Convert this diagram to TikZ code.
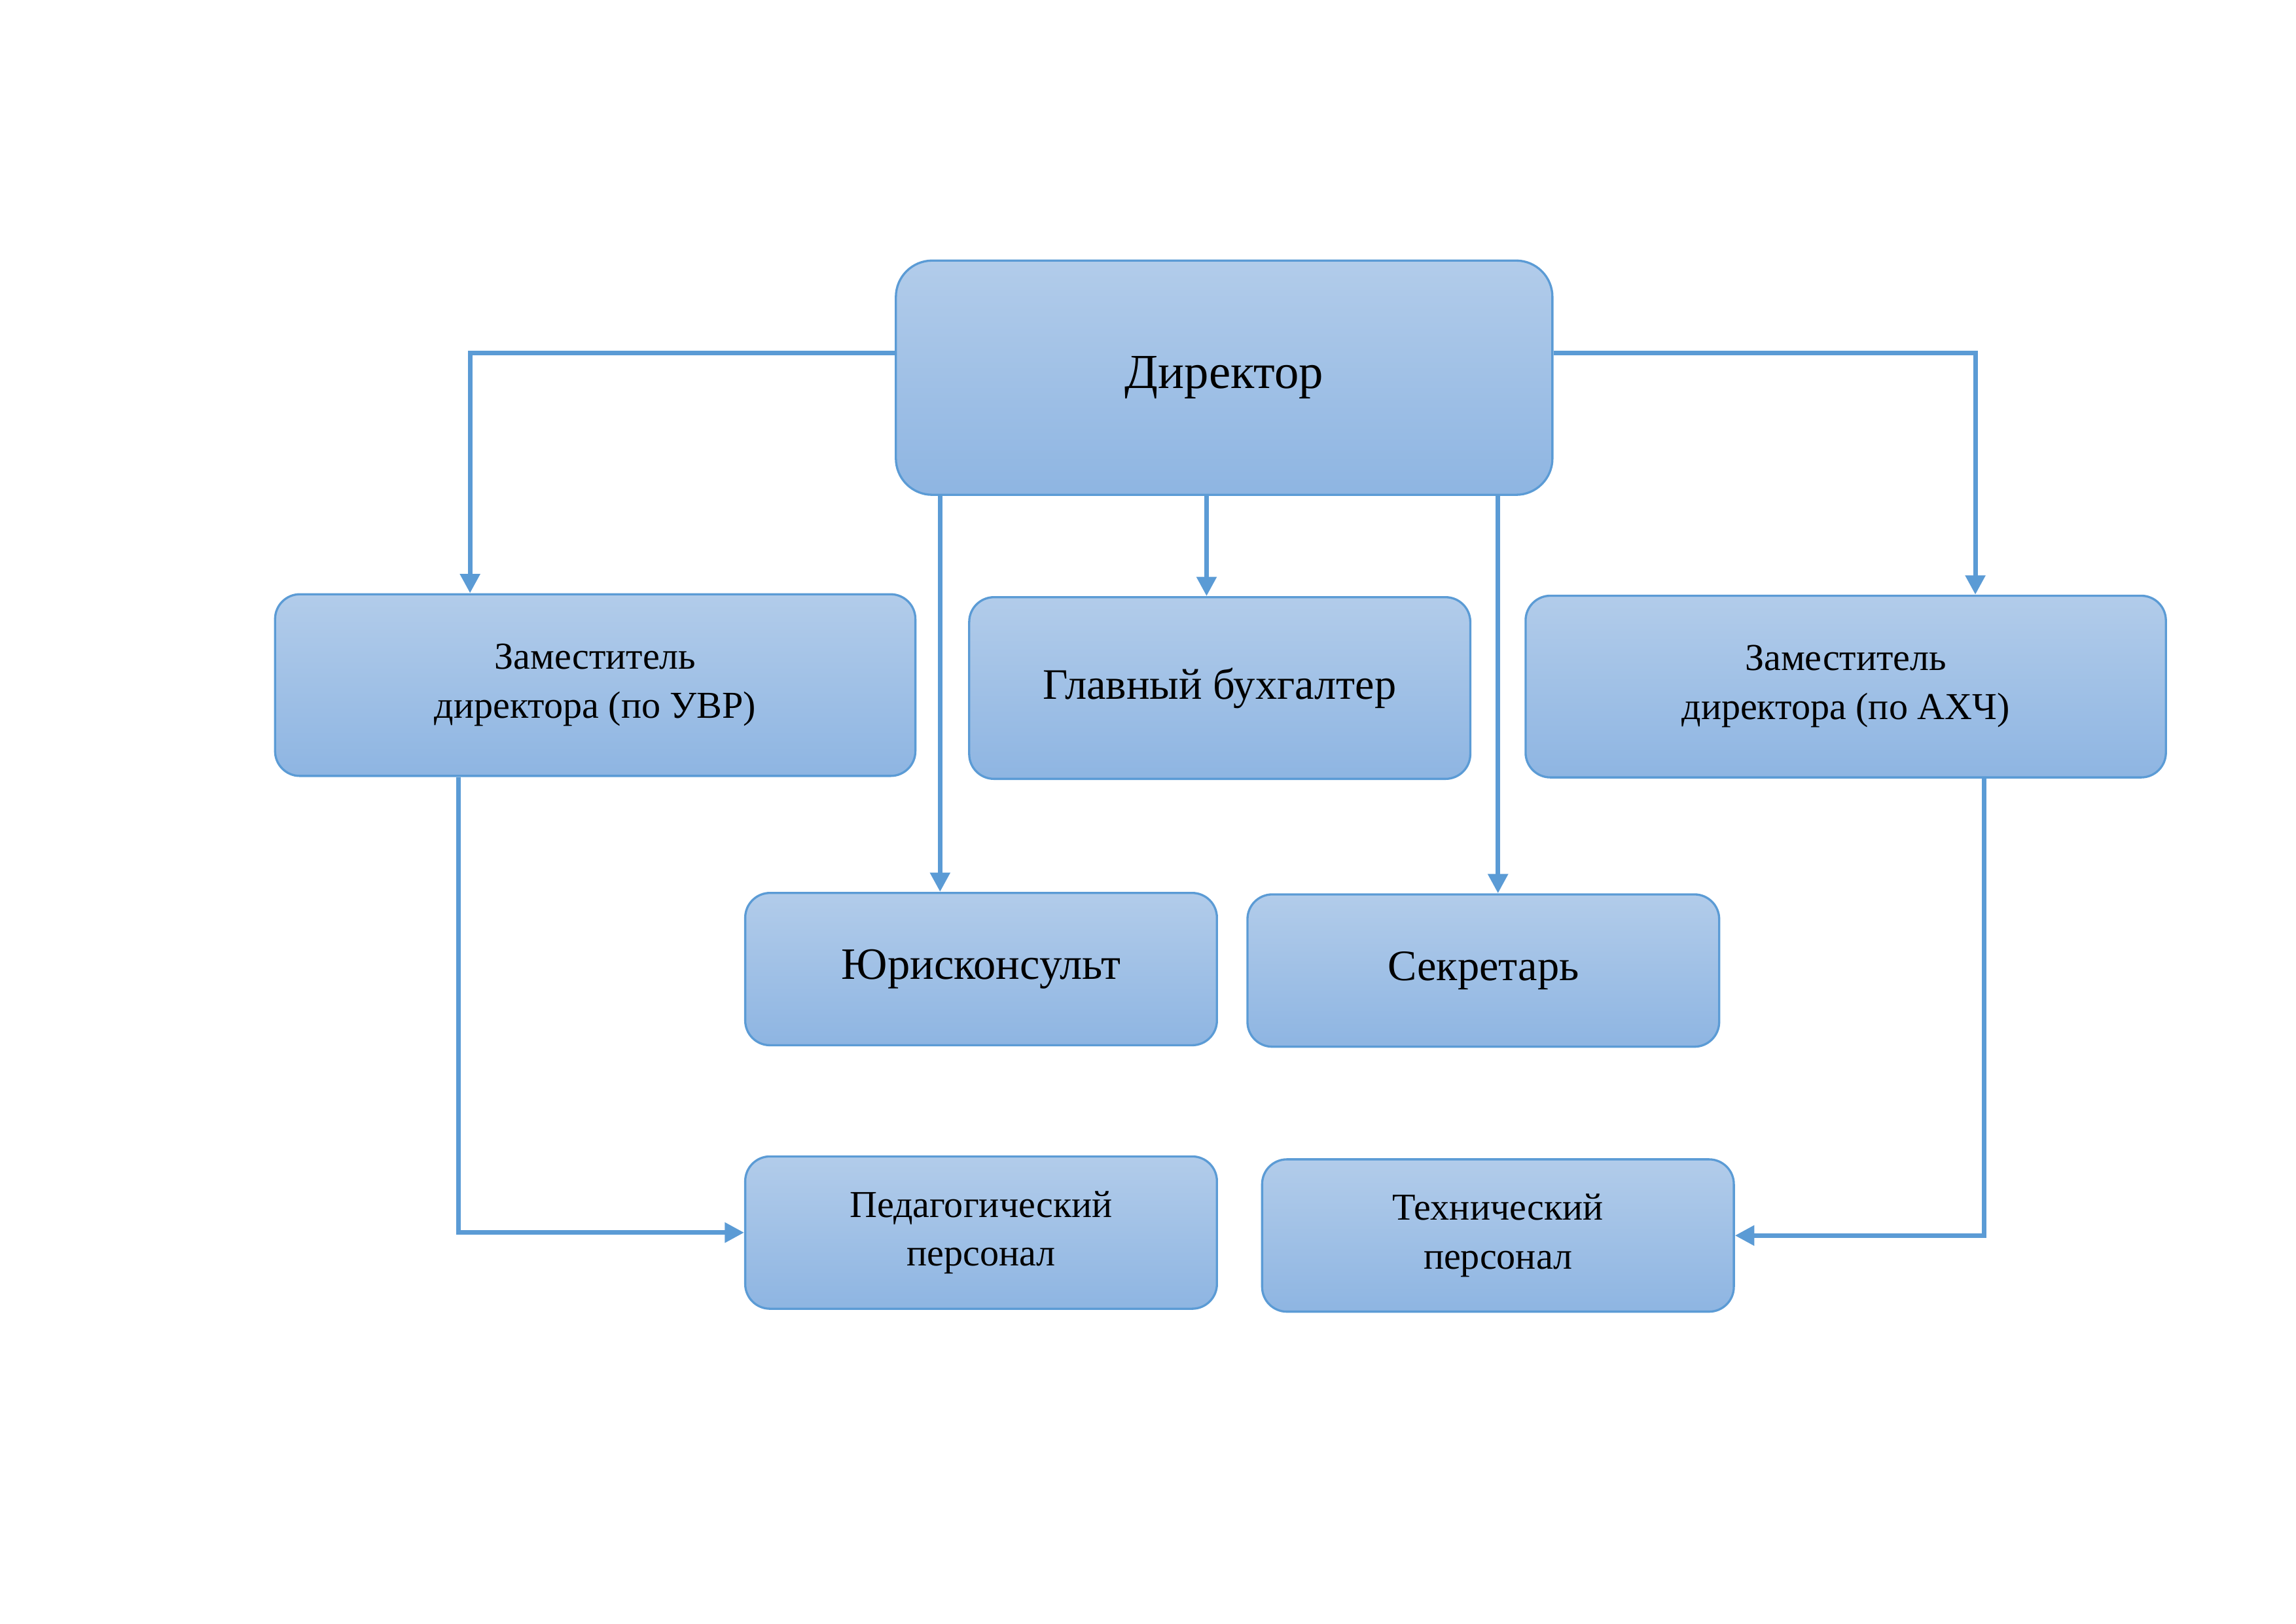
\documentclass[tikz,border=0pt]{standalone}
\usepackage{fontspec}
\setmainfont{Liberation Serif}
\usetikzlibrary{arrows.meta}
\definecolor{boxtop}{RGB}{178,204,234}
\definecolor{boxbottom}{RGB}{142,181,226}
\definecolor{boxline}{RGB}{91,155,213}
\begin{document}
\begin{tikzpicture}[x=0.01894cm,y=-0.01894cm,
	box_node/.style={rectangle,rounded corners=0.32cm,draw=boxline,line width=0.8pt,top color=boxtop,bottom color=boxbottom,align=center,inner sep=0pt,minimum width=6.1cm,minimum height=1.97cm,font=\fontsize{16}{19}\selectfont},
	wide_node/.style={box_node,minimum width=8.28cm,minimum height=2.35cm,font=\fontsize{14}{18}\selectfont},
	link/.style={draw=boxline,line width=1.7pt,-{Triangle[width=2.5mm,length=2.5mm]}}]

	\useasboundingbox (0,0) rectangle (1568,1109);

	\node[box_node,minimum width=8.49cm,minimum height=3.03cm,rounded corners=0.47cm,font=\fontsize{18}{22}\selectfont] (dir) at (836,258) {Директор};

	\node[wide_node] (uvr) at (406.5,468) {Заместитель\\директора (по УВР)};
	\node[box_node,minimum width=6.48cm,minimum height=2.35cm] (buh) at (833,470) {Главный бухгалтер};
	\node[wide_node] (ahch) at (1260.5,469) {Заместитель\\директора (по АХЧ)};

	\node[box_node,font=\fontsize{16.5}{19}\selectfont] (jur) at (670,662) {Юрисконсульт};
	\node[box_node] (sec) at (1013,663) {Секретарь};

	\node[box_node,font=\fontsize{14}{18}\selectfont] (ped) at (670,842) {Педагогический\\персонал};
	\node[box_node,font=\fontsize{14}{18}\selectfont] (tech) at (1023,844) {Технический\\персонал};

	\coordinate (left_bend) at (321,241);
	\coordinate (right_bend) at (1349,241);
	\coordinate (jur_x) at (642,0);
	\coordinate (buh_x) at (824,0);
	\coordinate (sec_x) at (1023,0);
	\coordinate (uvr_x) at (313,0);
	\coordinate (ahch_x) at (1355,0);

	\draw[link] (dir.west |- left_bend) -- (left_bend) -- (uvr.north -| left_bend);
	\draw[link] (dir.east |- right_bend) -- (right_bend) -- (ahch.north -| right_bend);

	\draw[link] (dir.south -| jur_x) -- (jur.north -| jur_x);
	\draw[link] (dir.south -| buh_x) -- (buh.north -| buh_x);
	\draw[link] (dir.south -| sec_x) -- (sec.north -| sec_x);

	\draw[link] (uvr.south -| uvr_x) |- (ped.west);
	\draw[link] (ahch.south -| ahch_x) |- (tech.east);
\end{tikzpicture}
\end{document}
